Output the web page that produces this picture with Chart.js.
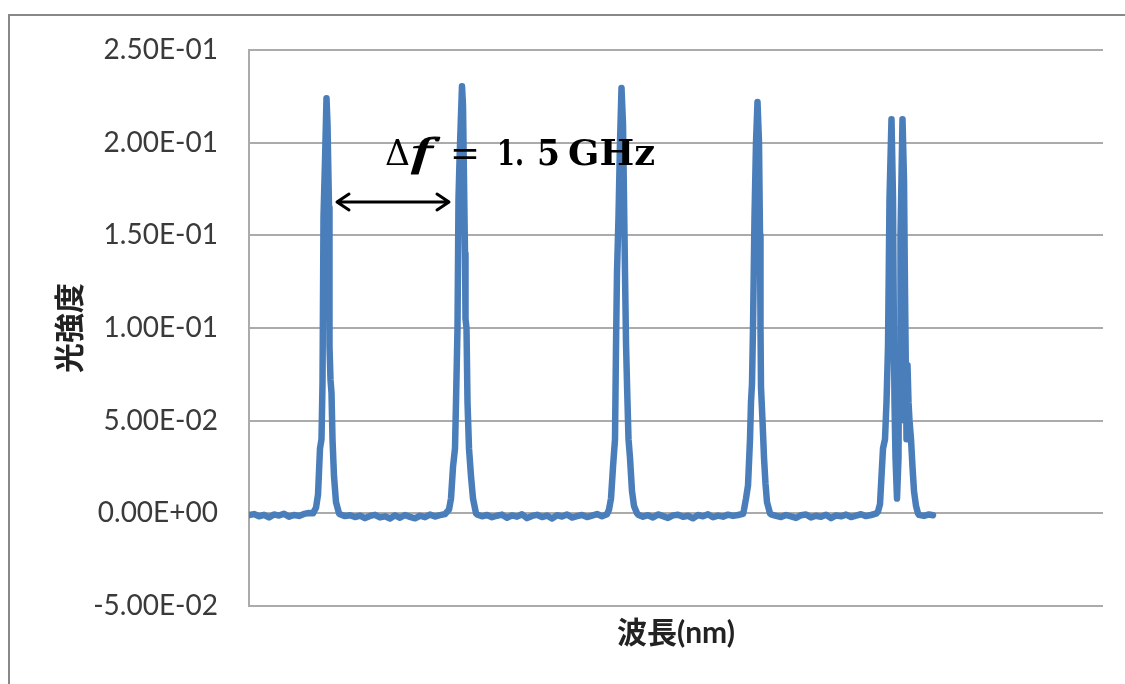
<!DOCTYPE html>
<html>
<head>
<meta charset="utf-8">
<script src="https://cdn.jsdelivr.net/npm/chart.js@4.4.1/dist/chart.umd.min.js"></script>
<style>
	body { margin: 0; background: #fff; }
	#wrap { width: 1125px; height: 684px; }
</style>
</head>
<body>
<div id="wrap"><canvas id="spectrum" width="1125" height="684"></canvas></div>
<script>
// sample index along the wavelength axis, intensity values
const yTicks = [-0.05, 0, 0.05, 0.1, 0.15, 0.2, 0.25];

// flat floor between the lines (x start, step 5)
const floor0 = { start: 0, y: [-0.0010, -0.0004, -0.0016, -0.0008, -0.0022, -0.0006, -0.0012, -0.0002, -0.0018, -0.0009, -0.0014, -0.0003, 0.0002] };
const floor1 = { start: 91, y: [-0.0005, -0.0015, -0.0010, -0.0020, -0.0012, -0.0026, -0.0014, -0.0008, -0.0022, -0.0016, -0.0028, -0.0011, -0.0024, -0.0009, -0.0019, -0.0027, -0.0013, -0.0021, -0.0007, -0.0017, -0.0010, -0.0004] };
const floor2 = { start: 228, y: [-0.0006, -0.0016, -0.0009, -0.0021, -0.0013, -0.0007, -0.0024, -0.0011, -0.0018, -0.0005, -0.0026, -0.0014, -0.0008, -0.0020, -0.0012, -0.0028, -0.0010, -0.0017, -0.0006, -0.0023, -0.0015, -0.0009, -0.0020, -0.0012, -0.0004, -0.0016, -0.0005] };
const floor3 = { start: 389, y: [-0.0007, -0.0018, -0.0010, -0.0022, -0.0006, -0.0015, -0.0025, -0.0011, -0.0008, -0.0019, -0.0013, -0.0027, -0.0009, -0.0016, -0.0005, -0.0021, -0.0012, -0.0018, -0.0007, -0.0014, -0.0009, -0.0003] };
const floor4 = { start: 522, y: [-0.0006, -0.0014, -0.0020, -0.0009, -0.0017, -0.0025, -0.0010, -0.0006, -0.0022, -0.0013, -0.0019, -0.0008, -0.0026, -0.0011, -0.0016, -0.0007, -0.0020, -0.0012, -0.0005, -0.0015, -0.0009, -0.0002] };
const floor5 = { start: 670, y: [-0.0008, -0.0014, -0.0006, -0.0010] };

// the five comb lines
const peak1X = [64, 67, 69, 71, 72.5, 73.5, 74.5, 76, 77.5, 78.5, 79.5, 80, 80.5, 81.5, 82.5, 83.5, 85, 87, 90];
const peak1Y = [0.000, 0.003, 0.010, 0.035, 0.040, 0.070, 0.160, 0.190, 0.224, 0.210, 0.180, 0.165, 0.090, 0.072, 0.065, 0.040, 0.020, 0.006, 0.000];
const peak2X = [200, 202, 204, 206, 207, 208.5, 209.5, 210.5, 212, 213, 214, 215, 216, 216.5, 217.5, 218.5, 220, 222, 224, 227];
const peak2Y = [0.002, 0.008, 0.025, 0.035, 0.060, 0.100, 0.170, 0.190, 0.215, 0.2305, 0.220, 0.180, 0.140, 0.105, 0.100, 0.060, 0.035, 0.020, 0.008, 0.000];
const peak3X = [360, 362, 364, 366, 367, 368, 369.5, 371, 372.5, 374, 375, 376, 377, 378, 379.5, 381, 383, 385, 388];
const peak3Y = [0.002, 0.008, 0.025, 0.040, 0.090, 0.130, 0.160, 0.200, 0.2295, 0.210, 0.170, 0.130, 0.092, 0.070, 0.040, 0.030, 0.012, 0.004, 0.000];
const peak4X = [495, 497, 499, 501, 502, 503, 504, 505.5, 507, 508.5, 510, 511, 511.5, 512, 513.5, 515, 516.5, 518, 521];
const peak4Y = [0.002, 0.008, 0.015, 0.040, 0.060, 0.070, 0.100, 0.160, 0.200, 0.222, 0.200, 0.150, 0.100, 0.068, 0.050, 0.030, 0.016, 0.006, 0.000];
const peak5X = [629, 631, 632.5, 634, 636, 637.5, 639, 640.5, 642.5, 644, 645, 645.5, 646.5, 648, 649.5, 650, 651, 651.5, 653.5, 655, 656, 657, 657.5, 658.5, 659.5, 660.5, 662, 663.5, 665, 667, 669];
const peak5Y = [0.001, 0.005, 0.020, 0.035, 0.040, 0.060, 0.090, 0.170, 0.2127, 0.170, 0.090, 0.060, 0.030, 0.008, 0.030, 0.090, 0.050, 0.150, 0.2127, 0.180, 0.120, 0.070, 0.040, 0.080, 0.060, 0.050, 0.040, 0.025, 0.012, 0.004, 0.000];

function buildPoints() {
	let pts = [];
	[floor0, floor1, floor2, floor3, floor4, floor5].forEach((f) => {
		f.y.forEach((v, i) => pts.push({ x: Math.min(f.start + i * 5, 684), y: v }));
	});
	[[peak1X, peak1Y], [peak2X, peak2Y], [peak3X, peak3Y], [peak4X, peak4Y], [peak5X, peak5Y]].forEach(([xs, ys]) => {
		xs.forEach((x, i) => pts.push({ x: x, y: ys[i] }));
	});
	pts.sort((a, b) => a.x - b.x);
	return pts;
}

function sciLabel(value) {
	let s = Number(value).toExponential(2);
	let [m, e] = s.split('e');
	let sign = e[0] === '-' ? '-' : '+';
	let digits = e.replace(/[+-]/, '');
	if (digits.length < 2) digits = '0' + digits;
	return m + 'E' + sign + digits;
}

// outer frame of the chart object
const frame = {
	id: 'frame',
	beforeDraw(chart) {
		const ctx = chart.ctx;
		ctx.save();
		ctx.strokeStyle = '#888888';
		ctx.lineWidth = 2;
		ctx.beginPath();
		ctx.moveTo(9, 684);
		ctx.lineTo(9, 15);
		ctx.lineTo(1125, 15);
		ctx.stroke();
		ctx.restore();
	},
};

// Δf arrow and label between the first two lines
const spacingNote = {
	id: 'spacingNote',
	afterDatasetsDraw(chart) {
		const ctx = chart.ctx;
		const xs = chart.scales.x;
		const ys = chart.scales.y;
		const ax1 = xs.getPixelForValue(88);
		const ax2 = xs.getPixelForValue(200);
		const ay = ys.getPixelForValue(0.168);
		ctx.save();
		ctx.strokeStyle = '#000';
		ctx.lineWidth = 3;
		ctx.lineCap = 'round';
		ctx.lineJoin = 'round';
		ctx.beginPath();
		ctx.moveTo(ax1, ay);
		ctx.lineTo(ax2, ay);
		ctx.moveTo(ax1 + 12, ay - 8);
		ctx.lineTo(ax1, ay);
		ctx.lineTo(ax1 + 12, ay + 8);
		ctx.moveTo(ax2 - 12, ay - 8);
		ctx.lineTo(ax2, ay);
		ctx.lineTo(ax2 - 12, ay + 8);
		ctx.stroke();

		const tx = xs.getPixelForValue(136);
		const ty = ys.getPixelForValue(0.188);
		ctx.fillStyle = '#000';
		ctx.textBaseline = 'alphabetic';
		ctx.textAlign = 'left';
		const parts = [
			['Δ', '36px "DejaVu Serif"', 0, 25],
			['f', 'italic 40px "Liberation Serif"', 26, 20],
			['=', '36px "DejaVu Serif"', 65, 30],
			['1.', 'bold 35px "DejaVu Serif"', 112, 27],
			['5', 'bold 35px "DejaVu Serif"', 152, 23],
			['GHz', 'bold 35px "DejaVu Serif"', 183, 87],
		];
		parts.forEach(([t, f, dx, w]) => {
			ctx.font = f;
			const mw = ctx.measureText(t).width;
			ctx.save();
			ctx.translate(tx + dx, ty);
			ctx.scale(w / mw, 1);
			ctx.fillText(t, 0, 0);
			if (t === 'f') {
				ctx.lineWidth = 1.2;
				ctx.strokeText(t, 0, 0);
			}
			ctx.restore();
		});
		ctx.restore();
	},
};

const initializeSpectrum = () => {
	var el = document.getElementById('spectrum');
	var gridColor = '#ababab';

	var spectrum = new Chart(el, {
		type: 'line',
		data: {
			datasets: [
				{
					label: '光強度',
					data: buildPoints(),
					borderColor: '#4a7ebb',
					borderWidth: 6.5,
					pointRadius: 0,
					tension: 0,
					borderJoinStyle: 'round',
					borderCapStyle: 'round',
				},
			],
		},
		options: {
			responsive: false,
			animation: false,
			devicePixelRatio: 1,
			layout: { padding: { top: 50, right: 22, bottom: 0, left: 0 } },
			plugins: {
				legend: { display: false },
				tooltip: { enabled: false },
			},
			scales: {
				x: {
					type: 'linear',
					min: 0,
					max: 854,
					ticks: { display: false },
					grid: { display: false },
					border: { display: false },
					title: {
						display: true,
						text: '波長(nm)',
						color: '#222',
						font: { family: 'Lato, "Noto Sans CJK JP"', size: 30, weight: 'bold' },
						padding: { top: 0, bottom: 33 },
					},
					afterFit: (s) => { s.height = 78; },
				},
				y: {
					min: -0.05,
					max: 0.25,
					afterBuildTicks: (s) => { s.ticks = yTicks.map((v) => ({ value: v })); },
					ticks: {
						padding: 31,
						color: '#3a3a3a',
						font: { family: 'Lato', size: 28 },
						callback: (v) => sciLabel(v),
					},
					grid: { color: gridColor, lineWidth: 2, drawTicks: false },
					border: { display: true, color: gridColor, width: 2 },
					title: {
						display: true,
						text: '光強度',
						color: '#222',
						font: { family: '"Noto Sans CJK JP"', size: 30, weight: 'bold' },
						padding: { top: 51, bottom: 0 },
					},
					afterFit: (s) => { s.width = 249; },
				},
			},
		},
		plugins: [frame, spacingNote],
	});
};

initializeSpectrum();
</script>
</body>
</html>
